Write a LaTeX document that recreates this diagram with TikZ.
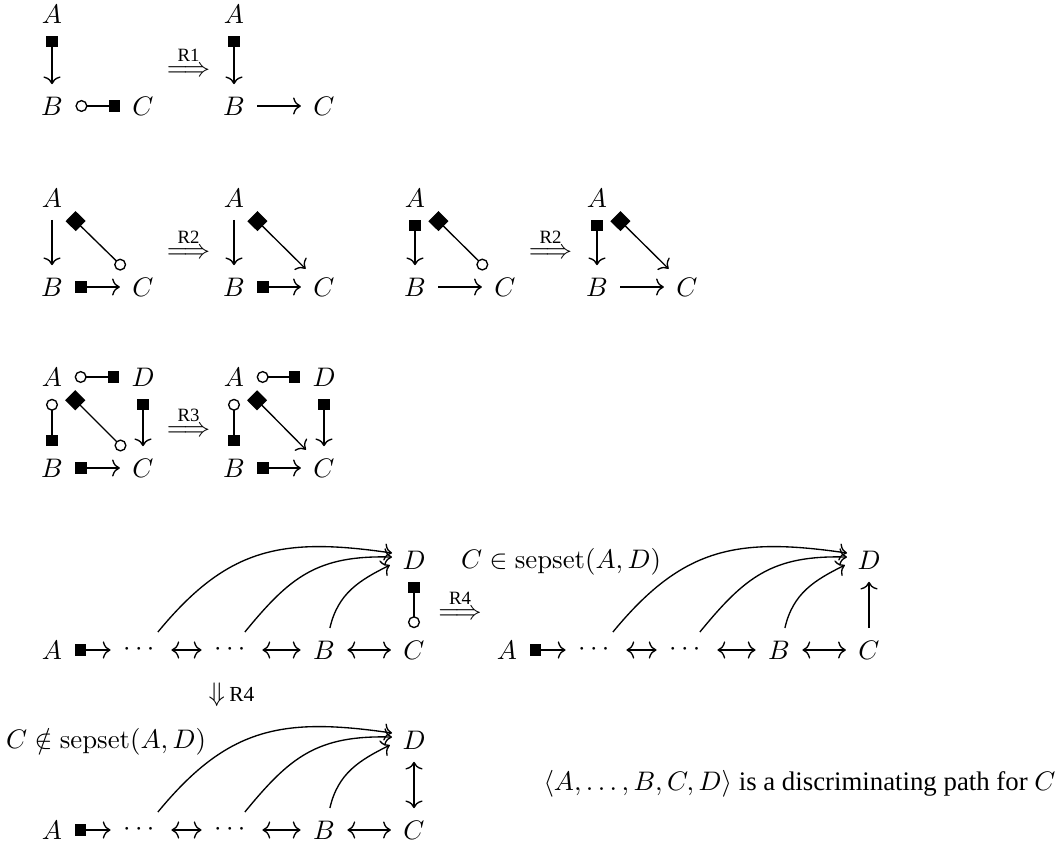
\documentclass[tikz,border=0pt]{standalone}
\usepackage{amsmath,amssymb}
\usepackage[no-math]{fontspec}
\setmainfont{Liberation Serif}
\usetikzlibrary{arrows.meta}
\tikzset{
  Ar/.tip={Computer Modern Rightarrow[length=2.9pt,width=6.4pt]},
  Sq/.tip={Square[length=4.2pt,width=4.2pt]},
  Ci/.tip={Circle[open,length=4.5pt,width=4.5pt]},
  Di/.tip={Square[length=5.3pt,width=5.3pt]},
  v/.style={inner sep=0pt},
  e/.style={line width=0.5pt,shorten <=4.5pt,shorten >=4.5pt},
  ce/.style={line width=0.5pt},
  rule/.style={inner sep=0pt,anchor=base},
}
\newcommand{\discpath}[3]{%
  \begin{scope}[shift={(#2,#3)}]
    \node[v] (#1A) at (52,650) {$A$};
    \node[v] (#1d1) at (141,650) {$\cdots$};
    \node[v] (#1d2) at (232,650) {$\cdots$};
    \node[v] (#1B) at (324,650) {$B$};
    \node[v] (#1C) at (414,650) {$C$};
    \node[v] (#1D) at (414,560) {$D$};
  \end{scope}
  \draw[e,Sq-Ar] (#1A) -- (#1d1);
  \draw[e,Ar-Ar] (#1d1) -- (#1d2);
  \draw[e,Ar-Ar] (#1d2) -- (#1B);
  \draw[e,Ar-Ar] (#1B) -- (#1C);
  \draw[ce,-Ar] ([xshift=6.3pt,yshift=6.7pt]#1d1.center) .. controls +(70,-85) and +(-110,-16) .. ([xshift=-8.2pt,yshift=2.6pt]#1D.center);
  \draw[ce,-Ar] ([xshift=4.8pt,yshift=6.7pt]#1d2.center) .. controls +(45,-55) and +(-75,-2) .. ([xshift=-8.2pt,yshift=1.1pt]#1D.center);
  \draw[ce,-Ar] ([xshift=2.2pt,yshift=8.2pt]#1B.center) .. controls +(8,-35) and +(-30,15) .. ([xshift=-9pt,yshift=-1.9pt]#1D.center);
}
\begin{document}
\begin{tikzpicture}[x=0.373pt,y=-0.373pt]
\useasboundingbox (0,0) rectangle (1062,848);

% ---- Row 1
\node[v] (a1) at (52,14) {$A$};
\node[v] (b1) at (52,106) {$B$};
\node[v] (c1) at (143,106) {$C$};
\draw[e,Sq-Ar] (a1) -- (b1);
\draw[e,Ci-Sq] (b1) -- (c1);
\node[rule] (r1) at (188.5,76.7) {$\stackrel{\text{R1}}{\Longrightarrow}$};
\node[v] (a2) at (234,14) {$A$};
\node[v] (b2) at (234,106) {$B$};
\node[v] (c2) at (324,106) {$C$};
\draw[e,Sq-Ar] (a2) -- (b2);
\draw[e,-Ar] (b2) -- (c2);

% ---- Row 2
\node[v] (a3) at (52,198) {$A$};
\node[v] (b3) at (52,287) {$B$};
\node[v] (c3) at (143,287) {$C$};
\draw[e,-Ar] (a3) -- (b3);
\draw[e,Di-Ci] (a3) -- (c3);
\draw[e,Sq-Ar] (b3) -- (c3);
\node[rule] (r2) at (188.5,258.7) {$\stackrel{\text{R2}}{\Longrightarrow}$};
\node[v] (a4) at (234,198) {$A$};
\node[v] (b4) at (234,287) {$B$};
\node[v] (c4) at (324,287) {$C$};
\draw[e,-Ar] (a4) -- (b4);
\draw[e,Di-Ar] (a4) -- (c4);
\draw[e,Sq-Ar] (b4) -- (c4);

\node[v] (a5) at (415,198) {$A$};
\node[v] (b5) at (415,287) {$B$};
\node[v] (c5) at (505,287) {$C$};
\draw[e,Sq-Ar] (a5) -- (b5);
\draw[e,Di-Ci] (a5) -- (c5);
\draw[e,-Ar] (b5) -- (c5);
\node[rule] (r3) at (550.5,258.7) {$\stackrel{\text{R2}}{\Longrightarrow}$};
\node[v] (a6) at (597,198) {$A$};
\node[v] (b6) at (597,287) {$B$};
\node[v] (c6) at (687,287) {$C$};
\draw[e,Sq-Ar] (a6) -- (b6);
\draw[e,Di-Ar] (a6) -- (c6);
\draw[e,-Ar] (b6) -- (c6);

% ---- Row 3
\node[v] (a7) at (52,377) {$A$};
\node[v] (d7) at (143,377) {$D$};
\node[v] (b7) at (52,468) {$B$};
\node[v] (c7) at (143,468) {$C$};
\draw[e,Ci-Sq] (a7) -- (d7);
\draw[e,Ci-Sq] (a7) -- (b7);
\draw[e,Di-Ci] (a7) -- (c7);
\draw[e,Sq-Ar] (d7) -- (c7);
\draw[e,Sq-Ar] (b7) -- (c7);
\node[rule] (r4) at (188.5,436.7) {$\stackrel{\text{R3}}{\Longrightarrow}$};
\node[v] (a8) at (234,377) {$A$};
\node[v] (d8) at (324,377) {$D$};
\node[v] (b8) at (234,468) {$B$};
\node[v] (c8) at (324,468) {$C$};
\draw[e,Ci-Sq] (a8) -- (d8);
\draw[e,Ci-Sq] (a8) -- (b8);
\draw[e,Di-Ar] (a8) -- (c8);
\draw[e,Sq-Ar] (d8) -- (c8);
\draw[e,Sq-Ar] (b8) -- (c8);

% ---- Row 4: discriminating paths
\discpath{p}{0}{0}
\draw[e,Sq-Ci] (pD) -- (pC);
\node[rule] (r5) at (460,619.7) {$\stackrel{\text{R4}}{\Longrightarrow}$};

\discpath{q}{455}{0}
\draw[e,-Ar] (qC) -- (qD);
\node[inner sep=0pt,anchor=base] (lq) at (561,569) {$C\in\mathrm{sepset}(A,D)$};

\node[inner sep=0pt,anchor=base west] (r6) at (208,702) {$\Downarrow$\,{\footnotesize R4}};

\discpath{s}{0}{180}
\draw[e,Ar-Ar] (sD) -- (sC);
\node[inner sep=0pt,anchor=base] (ls) at (106,749) {$C\notin\mathrm{sepset}(A,D)$};

\node[inner sep=0pt,anchor=base east] (txt) at (1056,791) {$\langle A,\dots,B,C,D\rangle$ is a discriminating path for $C$};
\end{tikzpicture}
\end{document}
